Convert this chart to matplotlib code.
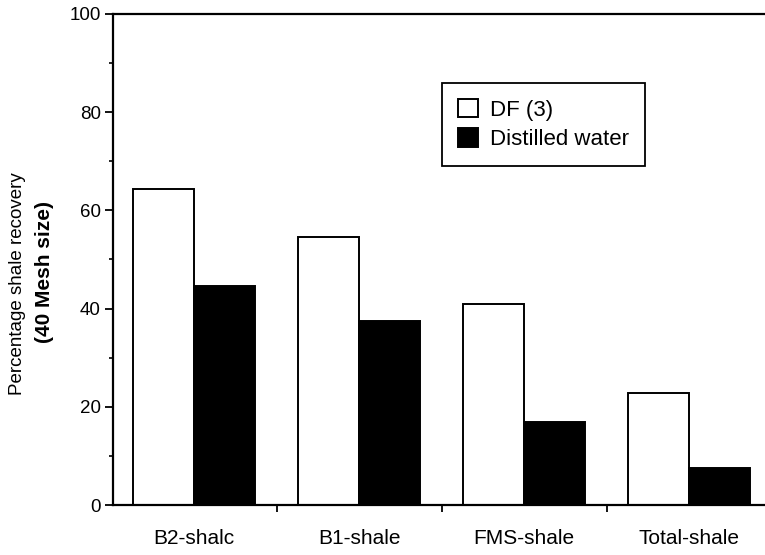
import numpy as np
import matplotlib.pyplot as plt

plt.rcParams['font.family'] = ['Liberation Sans', 'DejaVu Sans']

# data
categories = ['B2-shalc', 'B1-shale', 'FMS-shale', 'Total-shale']
df3 = [64.3, 54.5, 41.0, 22.9]
water = [44.5, 37.5, 16.9, 7.5]

x = np.arange(len(categories))
w = 0.37

fig = plt.figure(figsize=(7.65, 5.55), dpi=100)
ax = fig.add_axes([0.148, 0.09, 0.852, 0.885])

ax.bar(x - w / 2, df3, w, color='white', edgecolor='black', linewidth=1.4, label='DF (3)')
ax.bar(x + w / 2, water, w, color='black', edgecolor='black', linewidth=1.4, label='Distilled water')

ax.set_xlim(-0.49, 3.46)
ax.set_ylim(0, 100)

ax.spines['right'].set_visible(False)
for s in ['left', 'top', 'bottom']:
    ax.spines[s].set_linewidth(1.6)

ax.set_yticks([0, 20, 40, 60, 80, 100])
ax.set_yticks([10, 30, 50, 70, 90], minor=True)
ax.tick_params(axis='y', which='major', length=6, width=1.3, labelsize=13.5, pad=3)
ax.tick_params(axis='y', which='minor', length=3, width=1.2)

ax.set_xticks(x)
ax.set_xticklabels(categories)
ax.set_xticks([0.5, 1.5, 2.5], minor=True)
ax.tick_params(axis='x', which='major', length=0, labelsize=15, pad=17)
ax.tick_params(axis='x', which='minor', length=5, width=1.3)

# y label, two lines (second one heavier in the original)
fig.text(18 / 765, 1 - 284 / 555, 'Percentage shale recovery', rotation=90,
         ha='center', va='center', fontsize=13.5)
fig.text(45 / 765, 1 - 272 / 555, '(40 Mesh size)', rotation=90,
         ha='center', va='center', fontsize=15, fontweight='bold')

leg = ax.legend(loc='upper left', bbox_to_anchor=(0.505, 0.859), fontsize=16,
                fancybox=False, edgecolor='black', framealpha=1,
                handlelength=0.9, handleheight=0.9, handletextpad=0.55,
                borderpad=0.7, labelspacing=0.35, borderaxespad=0)
leg.get_frame().set_linewidth(1.3)

fig.savefig('out.png', dpi=100)
